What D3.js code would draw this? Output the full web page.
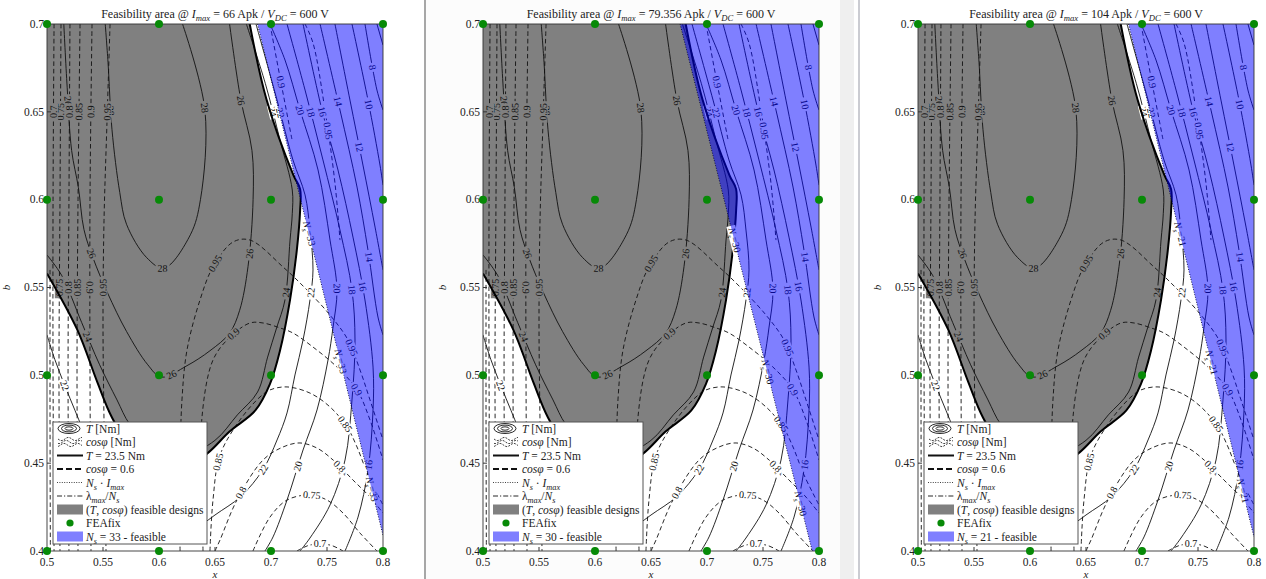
<!DOCTYPE html>
<html>
<head>
<meta charset="utf-8">
<script src="https://cdn.jsdelivr.net/npm/d3@7"></script>
<style>
  body { margin: 0; background: #fff; }
  svg { display: block; font-family: "Liberation Serif", "DejaVu Serif", serif; }
</style>
</head>
<body>
<svg id="fig" width="1266" height="579"></svg>
<script>
// ---------- data ----------
const xTicks = [0.5, 0.55, 0.6, 0.65, 0.7, 0.75, 0.8];
const bTicks = [0.4, 0.45, 0.5, 0.55, 0.6, 0.65, 0.7];
const feaX = [0.5, 0.6, 0.7, 0.8];
const feaB = [0.4, 0.5, 0.6, 0.7];
const currents = ["66", "79.356", "104"];
const turns = [33, 30, 21];

// boundary of the (T, cos phi) feasible set, i.e. the T = 23.5 Nm contour
const feasibleBoundary = [[0.681,0.7],[0.696,0.657],[0.720,0.614],[0.726,0.606],[0.726,0.594],[0.723,0.571],[0.717,0.543],[0.708,0.514],[0.699,0.495],[0.686,0.480],[0.663,0.468],[0.644,0.456],[0.623,0.447],[0.601,0.445],[0.579,0.455],[0.558,0.476],[0.545,0.496],[0.527,0.526],[0.5,0.558]];

// N_s limit lines (left edge of the feasible N_s area)
const nsEdge33 = [[0.688,0.7],[0.8,0.409]];
const nsEdge30 = [[0.676,0.7],[0.794,0.4]];
const nsEdge21 = [[0.688,0.7],[0.8,0.408]];
const nsEdges = [nsEdge33, nsEdge30, nsEdge21];

// torque contours [Nm]
const torqueContours = [
  {level: 28, pts: [[0.552,0.7],[0.5545,0.678],[0.558,0.640],[0.565,0.604],[0.571,0.586],[0.589,0.567],[0.6045,0.561],[0.628,0.580],[0.637,0.600],[0.641,0.651],[0.621,0.7]]},
  {level: 26, pts: [[0.515,0.7],[0.518,0.664],[0.522,0.628],[0.528,0.607],[0.533,0.583],[0.541,0.567],[0.554,0.547],[0.571,0.525],[0.590,0.506],[0.602,0.499],[0.625,0.5055],[0.6455,0.514],[0.663,0.524],[0.672,0.537],[0.6795,0.562],[0.684,0.600],[0.683,0.628],[0.673,0.657],[0.663,0.7]]},
  {level: 24, pts: [[0.5,0.5685],[0.513,0.557],[0.531,0.530],[0.547,0.506],[0.5625,0.486],[0.574,0.472],[0.596,0.4575],[0.623,0.4546],[0.650,0.463],[0.670,0.4775],[0.688,0.4905],[0.697,0.5104],[0.705,0.527],[0.7125,0.543],[0.717,0.577],[0.719,0.592],[0.719,0.6055],[0.708,0.634],[0.695,0.666],[0.678,0.7]]},
  {level: 22, pts: [[0.632,0.412],[0.650,0.4205],[0.673,0.431],[0.693,0.4465],[0.7054,0.4632],[0.7143,0.4786],[0.7214,0.5002],[0.7286,0.5201],[0.7348,0.5429],[0.7375,0.56],[0.7348,0.5827],[0.7304,0.6027],[0.7196,0.6226],[0.7054,0.6567],[0.6866,0.7]]},
  {level: 22, pts: [[0.5,0.523],[0.507,0.509],[0.516,0.494],[0.525,0.480],[0.534,0.466]]},
  {level: 20, pts: [[0.6946,0.4],[0.7018,0.408],[0.7143,0.429],[0.7286,0.4575],[0.7411,0.4803],[0.7509,0.5087],[0.7554,0.5275],[0.7589,0.5486],[0.7527,0.577],[0.742,0.6169],[0.7259,0.651],[0.7125,0.6795],[0.6991,0.7]]},
  {level: 18, pts: [[0.7259,0.4],[0.7348,0.4074],[0.7527,0.4262],[0.7661,0.4518],[0.7723,0.486],[0.775,0.5201],[0.7723,0.5486],[0.7616,0.5827],[0.7464,0.6226],[0.7304,0.6624],[0.7143,0.7]]},
  {level: 16, pts: [[0.7661,0.4],[0.7777,0.4193],[0.7866,0.4461],[0.7911,0.4803],[0.7911,0.5047],[0.7839,0.5429],[0.7732,0.5787],[0.7598,0.6169],[0.7455,0.651],[0.7286,0.7]]},
  {level: 14, pts: [[0.8,0.523],[0.7955,0.5332],[0.7866,0.5713],[0.7768,0.6072],[0.7616,0.651],[0.7438,0.7]]},
  {level: 12, pts: [[0.8,0.56],[0.7929,0.5844],[0.7821,0.6197],[0.7705,0.6567],[0.7571,0.7]]},
  {level: 10, pts: [[0.8,0.6083],[0.7973,0.6197],[0.7866,0.6567],[0.7723,0.7]]},
  {level: 8,  pts: [[0.8,0.651],[0.7946,0.6624],[0.7839,0.7]]},
  {level: 6,  pts: [[0.8,0.688],[0.7946,0.7]]}
];

// power factor contours
const pfContours = [
  {level: 0.95, pts: [[0.5563,0.7],[0.5536,0.645],[0.5509,0.588],[0.55,0.531],[0.5509,0.474],[0.5527,0.4]]},
  {level: 0.9,  pts: [[0.5402,0.7],[0.5384,0.6],[0.5384,0.5],[0.5393,0.4]]},
  {level: 0.85, pts: [[0.5295,0.7],[0.5277,0.6],[0.5268,0.5],[0.5277,0.4]]},
  {level: 0.8,  pts: [[0.5205,0.7],[0.5196,0.6],[0.5188,0.5],[0.5196,0.4]]},
  {level: 0.75, pts: [[0.5125,0.7],[0.5116,0.6],[0.5107,0.5],[0.5116,0.4]]},
  {level: 0.7,  pts: [[0.5063,0.7],[0.5054,0.6],[0.5054,0.5],[0.5063,0.4]]},
  {level: 0.65, pts: [[0.5027,0.56],[0.5027,0.48],[0.503,0.4]]},
  {level: 0.95, pts: [[0.6188,0.4],[0.6188,0.4461],[0.6205,0.486],[0.625,0.5144],[0.6366,0.5429],[0.6482,0.5617],[0.6661,0.5759],[0.6813,0.577],[0.7107,0.5617],[0.7304,0.5497],[0.7527,0.5343],[0.7688,0.5201],[0.7795,0.503],[0.7884,0.486],[0.8,0.4632]]},
  {level: 0.9,  pts: [[0.6393,0.4],[0.6384,0.4461],[0.6384,0.4763],[0.6482,0.5087],[0.6634,0.5218],[0.6813,0.5298],[0.6929,0.5298],[0.708,0.527],[0.7196,0.5241],[0.7375,0.5161],[0.7589,0.5047],[0.7768,0.4917],[0.7884,0.4746],[0.8,0.4518]]},
  {level: 0.85, pts: [[0.6455,0.4],[0.6482,0.429],[0.6545,0.4546],[0.6723,0.4746],[0.6902,0.4877],[0.6991,0.4917],[0.7143,0.4934],[0.7348,0.4899],[0.7527,0.482],[0.7679,0.4706],[0.7768,0.4592],[0.7866,0.4433],[0.8,0.4262]]},
  {level: 0.8,  pts: [[0.65,0.4],[0.6545,0.4063],[0.6696,0.429],[0.6929,0.4518],[0.7107,0.4592],[0.7259,0.4615],[0.7411,0.4586],[0.7554,0.4518],[0.7732,0.4404],[0.7884,0.4307],[0.8,0.4216]]},
  {level: 0.75, pts: [[0.6839,0.4],[0.6991,0.4193],[0.7143,0.429],[0.7348,0.4319],[0.75,0.429],[0.7643,0.4216],[0.7795,0.4102],[0.7946,0.4]]},
  {level: 0.7,  pts: [[0.7232,0.4],[0.7348,0.4034],[0.7527,0.4034],[0.7643,0.4]]},
  {level: 0.95, pts: [[0.7304,0.7],[0.7375,0.6892],[0.7482,0.651],[0.7571,0.6095],[0.7616,0.577]]},
  {level: 0.9,  pts: [[0.6991,0.7],[0.708,0.6698],[0.7188,0.634]]}
];

// ---------- layout ----------
const svg = d3.select("#fig");
const W = 336, H = 527, TOP = 24;
const panelLeft = [47, 483, 918];
const LEG = {x: 6, y: 398, w: 154, h: 122};

svg.append("rect").attr("width", 1266).attr("height", 579).attr("fill", "#fff");
// page edges between the three figures
svg.append("rect").attr("x", 426).attr("y", 0).attr("width", 424).attr("height", 579).attr("fill", "#fcfcfc");
svg.append("rect").attr("x", 840).attr("y", 0).attr("width", 14).attr("height", 579).attr("fill", "#efefef");
svg.append("line").attr("x1", 425).attr("x2", 425).attr("y1", 0).attr("y2", 579).attr("stroke", "#8a8a8a").attr("stroke-width", 1.5);
svg.append("line").attr("x1", 859).attr("x2", 859).attr("y1", 0).attr("y2", 579).attr("stroke", "#a8aab4").attr("stroke-width", 1.2);

svg.append("defs").append("clipPath").attr("id", "plotClip")
  .append("rect").attr("width", W).attr("height", H);

function rich(textSel, parts) {
  let shift = 0;
  parts.forEach(([s, st]) => {
    const t = textSel.append("tspan").text(s);
    if (st === "i" || st === "sub") t.attr("font-style", "italic");
    const want = st === "sub" ? 3 : 0;
    if (want !== shift) { t.attr("dy", want - shift); shift = want; }
    if (st === "sub") t.attr("font-size", "72%");
  });
}

const fmtTick = v => String(+v.toFixed(2));

panelLeft.forEach((left, p) => {
  const g = svg.append("g").attr("transform", `translate(${left},${TOP})`);
  const xs = d3.scaleLinear().domain([0.5, 0.8]).range([0, W]);
  const ys = d3.scaleLinear().domain([0.4, 0.7]).range([H, 0]);
  const smooth = d3.line().x(d => xs(d[0])).y(d => ys(d[1])).curve(d3.curveCatmullRom.alpha(0.5));
  const straight = d3.line().x(d => xs(d[0])).y(d => ys(d[1]));

  const plot = g.append("g").attr("clip-path", "url(#plotClip)");
  plot.append("rect").attr("width", W).attr("height", H).attr("fill", "#fff");

  // feasible (T, cos phi) region
  const bPath = smooth(feasibleBoundary);
  plot.append("path").attr("d", bPath + `L${xs(0.5)},${ys(0.7)}Z`).attr("fill", "#808080");
  const grayPoly = feasibleBoundary.map(d => [xs(d[0]), ys(d[1])]).concat([[xs(0.5), ys(0.7)]]);

  const lineLayer = plot.append("g");
  const labelLayer = plot.append("g");

  const inLegend = m => m.x > LEG.x - 4 && m.x < LEG.x + LEG.w + 4 && m.y > LEG.y - 4 && m.y < LEG.y + LEG.h + 4;

  function drawContours(list, dashed, fmt) {
    list.forEach(c => {
      const path = lineLayer.append("path")
        .attr("d", smooth(c.pts)).attr("fill", "none")
        .attr("stroke", "#111").attr("stroke-width", 0.9)
        .attr("stroke-dasharray", dashed ? "4.5,3" : null);
      const node = path.node();
      const L = node.getTotalLength();
      if (L < 30) return;
      const n = Math.max(1, Math.round(L / 170));
      for (let i = 0; i < n; i++) {
        const t = (i + 0.5) / n * L;
        const a = node.getPointAtLength(Math.max(0, t - 3));
        const b = node.getPointAtLength(Math.min(L, t + 3));
        const m = node.getPointAtLength(t);
        if (m.x < 6 || m.x > W - 6 || m.y < 6 || m.y > H - 6 || inLegend(m)) continue;
        let ang = Math.atan2(b.y - a.y, b.x - a.x) * 180 / Math.PI;
        if (ang > 90) ang -= 180;
        if (ang < -90) ang += 180;
        const bg = d3.polygonContains(grayPoly, [m.x, m.y]) ? "#808080" : "#fff";
        const lg = labelLayer.append("g").attr("transform", `translate(${m.x},${m.y}) rotate(${ang})`);
        const bgRect = lg.append("rect").attr("fill", bg);
        const txt = lg.append("text").attr("text-anchor", "middle").attr("dy", "0.34em")
          .attr("font-size", 10).attr("fill", "#111").text(fmt(c.level));
        const tw = txt.node().getComputedTextLength();
        bgRect.attr("x", -tw / 2 - 2).attr("y", -4.5).attr("width", tw + 4).attr("height", 9);
      }
    });
  }
  drawContours(torqueContours, false, v => String(v));
  drawContours(pfContours, true, v => String(v));

  // thick T = 23.5 Nm boundary
  plot.append("path").attr("d", bPath).attr("fill", "none").attr("stroke", "#000").attr("stroke-width", 2);

  // N_s limit line and its labels
  const edge = nsEdges[p];
  const edgePath = plot.append("path").attr("d", straight(edge)).attr("fill", "none")
    .attr("stroke", "#000").attr("stroke-width", 0.9).attr("stroke-dasharray", "1,1.6");
  const en = edgePath.node(), EL = en.getTotalLength();
  [0.41, 0.66, 0.91].forEach(f => {
    const m = en.getPointAtLength(f * EL);
    const a = en.getPointAtLength(f * EL - 3), b = en.getPointAtLength(f * EL + 3);
    const ang = Math.atan2(b.y - a.y, b.x - a.x) * 180 / Math.PI;
    const lg = plot.append("g").attr("transform", `translate(${m.x},${m.y}) rotate(${ang})`);
    const bgRect = lg.append("rect").attr("fill", "#fff");
    const txt = lg.append("text").attr("text-anchor", "middle").attr("dy", "0.3em").attr("font-size", 10).attr("fill", "#111");
    rich(txt, [["N", "i"], ["s", "sub"], ["=" + turns[p], "r"]]);
    const tw = txt.node().getComputedTextLength();
    bgRect.attr("x", -tw / 2 - 2).attr("y", -4.5).attr("width", tw + 4).attr("height", 9);
  });

  // feasible N_s area
  plot.append("path")
    .attr("d", straight(edge.concat([[0.8, 0.4], [0.8, 0.7]])) + "Z")
    .attr("fill", "#0000ff").attr("fill-opacity", 0.5);

  // frame
  g.append("rect").attr("width", W).attr("height", H).attr("fill", "none").attr("stroke", "#333").attr("stroke-width", 0.9);

  // ticks
  bTicks.forEach(v => {
    g.append("line").attr("x1", 0).attr("x2", 4).attr("y1", ys(v)).attr("y2", ys(v)).attr("stroke", "#333");
    g.append("text").attr("x", -3).attr("y", ys(v)).attr("dy", "0.33em").attr("text-anchor", "end")
      .attr("font-size", 11.5).attr("fill", "#222").text(fmtTick(v));
  });
  xTicks.forEach(v => {
    g.append("line").attr("x1", xs(v)).attr("x2", xs(v)).attr("y1", H).attr("y2", H - 4).attr("stroke", "#333");
    g.append("text").attr("x", xs(v)).attr("y", H + 15).attr("text-anchor", "middle")
      .attr("font-size", 11.5).attr("fill", "#222").text(fmtTick(v));
  });
  g.append("text").attr("x", W / 2).attr("y", H + 27).attr("text-anchor", "middle")
    .attr("font-size", 11).attr("font-style", "italic").attr("fill", "#222").text("x");
  g.append("text").attr("transform", `translate(-37,${H / 2}) rotate(-90)`).attr("text-anchor", "middle")
    .attr("font-size", 11).attr("font-style", "italic").attr("fill", "#222").text("b");

  // title
  const title = g.append("text").attr("x", W / 2).attr("y", -6).attr("text-anchor", "middle")
    .attr("font-size", 12).attr("fill", "#222");
  rich(title, [["Feasibility area @ ", "r"], ["I", "i"], ["max", "sub"], [" = " + currents[p] + " Apk / ", "r"], ["V", "i"], ["DC", "sub"], [" = 600 V", "r"]]);

  // FEA sample points
  feaX.forEach(x => feaB.forEach(b => {
    g.append("circle").attr("cx", xs(x)).attr("cy", ys(b)).attr("r", 4).attr("fill", "#078a07");
  }));

  // legend
  const lgd = g.append("g").attr("transform", `translate(${LEG.x},${LEG.y})`);
  lgd.append("rect").attr("width", LEG.w).attr("height", LEG.h).attr("fill", "#fff").attr("stroke", "#555").attr("stroke-width", 1);
  const rowY = i => 6.5 + i * 13.5;
  const sx0 = 4, sx1 = 30, tx = 33;
  // T contour icon
  [[11, 5], [7.5, 3.4], [4, 1.7]].forEach(([rx, ry]) => {
    lgd.append("ellipse").attr("cx", 16).attr("cy", rowY(0)).attr("rx", rx).attr("ry", ry)
      .attr("fill", "none").attr("stroke", "#111").attr("stroke-width", 0.9);
  });
  // cos phi contour icon
  [-3, 0, 3].forEach((off, k) => {
    const pts = d3.range(0, 25).map(j => [5 + j, rowY(1) + off + 1.6 * Math.sin(j / 2.2 + k)]);
    lgd.append("path").attr("d", d3.line()(pts)).attr("fill", "none").attr("stroke", "#111")
      .attr("stroke-width", 0.8).attr("stroke-dasharray", "2,1.2");
  });
  const lineIcon = (i, w, dash) => lgd.append("line").attr("x1", sx0).attr("x2", sx1)
    .attr("y1", rowY(i)).attr("y2", rowY(i)).attr("stroke", "#111").attr("stroke-width", w).attr("stroke-dasharray", dash);
  lineIcon(2, 2, null);
  lineIcon(3, 2, "6,3");
  lineIcon(4, 0.8, "1,1.4");
  lineIcon(5, 0.9, "5,2,1.2,2");
  lgd.append("rect").attr("x", sx0).attr("y", rowY(6) - 5).attr("width", sx1 - sx0).attr("height", 10).attr("fill", "#808080");
  lgd.append("circle").attr("cx", 17).attr("cy", rowY(7)).attr("r", 3.6).attr("fill", "#078a07");
  lgd.append("rect").attr("x", sx0).attr("y", rowY(8) - 5).attr("width", sx1 - sx0).attr("height", 10).attr("fill", "#0000ff").attr("fill-opacity", 0.5);

  const legendTexts = [
    [["T", "i"], [" [Nm]", "r"]],
    [["cos\u03c6", "i"], [" [Nm]", "r"]],
    [["T", "i"], [" = 23.5 Nm", "r"]],
    [["cos\u03c6", "i"], [" = 0.6", "r"]],
    [["N", "i"], ["s", "sub"], [" \u00b7 ", "r"], ["I", "i"], ["max", "sub"]],
    [["\u03bb", "r"], ["max", "sub"], ["/", "r"], ["N", "i"], ["s", "sub"]],
    [["(", "r"], ["T", "i"], [", ", "r"], ["cos\u03c6", "i"], [") feasible designs", "r"]],
    [["FEAfix", "r"]],
    [["N", "i"], ["s", "sub"], [" = " + turns[p] + " - feasible", "r"]]
  ];
  legendTexts.forEach((parts, i) => {
    const t = lgd.append("text").attr("x", tx).attr("y", rowY(i) + 4).attr("font-size", 11.5).attr("fill", "#222");
    rich(t, parts);
  });
});
</script>
</body>
</html>
